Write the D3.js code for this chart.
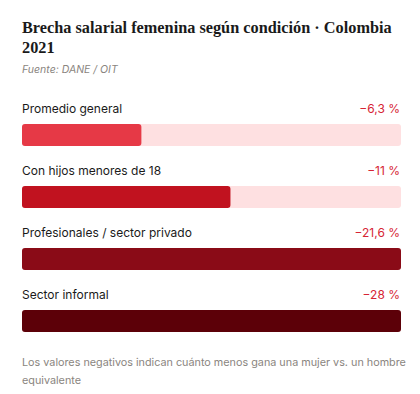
<!DOCTYPE html>
<html><head><meta charset="utf-8">
<script src="https://cdn.jsdelivr.net/npm/d3@7/dist/d3.min.js"></script>
<style>
html,body{margin:0;padding:0;background:#fff;}
svg{display:block;}
</style></head>
<body>
<script>
const categories = ["Promedio general", "Con hijos menores de 18", "Profesionales / sector privado", "Sector informal"];
const values = [-6.3, -11, -21.6, -28];
const valueLabels = ["−6,3 %", "−11 %", "−21,6 %", "−28 %"];
const barColors = ["#e63946", "#c1121f", "#8a0b17", "#5c0008"];
const scaleMax = 20;

const W = 420, H = 394;
const left = 22, right = 401;
const svg = d3.select("body").append("svg").attr("width", W).attr("height", H);

// Title (wrapped)
const titleText = "Brecha salarial femenina según condición · Colombia 2021";
const title = svg.append("text").attr("x", left).attr("y", 33)
  .attr("font-family", "'Liberation Serif', 'DejaVu Serif', serif")
  .attr("font-weight", 700).attr("font-size", 16.3).attr("fill", "#1a1a1a");
(function wrap(){
  const words = titleText.split(" ");
  let line = [], tspan = title.append("tspan").attr("x", left).attr("dy", 0);
  for (const w of words) {
    line.push(w);
    tspan.text(line.join(" "));
    if (tspan.node().getComputedTextLength() > right - left && line.length > 1) {
      line.pop(); tspan.text(line.join(" "));
      line = [w];
      tspan = title.append("tspan").attr("x", left).attr("dy", 20).text(w);
    }
  }
})();

svg.append("text").attr("x", left).attr("y", 73)
  .attr("font-family", "Inter, sans-serif").attr("font-style", "italic")
  .attr("font-size", 10.5).attr("fill", "#8a8580").text("Fuente: DANE / OIT");

const x = d3.scaleLinear().domain([0, scaleMax]).range([0, right - left]).clamp(true);
const y = d3.scaleBand().domain(categories).range([98, 346]).paddingInner(0).paddingOuter(0);

const rows = svg.selectAll("g.row").data(categories).join("g")
  .attr("class", "row").attr("transform", d => `translate(0,${y(d)})`);

rows.append("text").attr("x", left).attr("y", 15)
  .attr("font-family", "Inter, sans-serif").attr("font-size", 12).attr("fill", "#1a1a1a")
  .text(d => d);
rows.append("text").attr("x", right - 1).attr("y", 15).attr("text-anchor", "end")
  .attr("font-family", "Inter, sans-serif").attr("font-size", 12).attr("fill", "#d62435")
  .text((d, i) => valueLabels[i]);
rows.append("rect").attr("x", left).attr("y", 26).attr("width", right - left).attr("height", 22)
  .attr("rx", 3).attr("fill", "#fee0e1");
rows.append("rect").attr("x", left).attr("y", 26)
  .attr("width", (d, i) => x(Math.abs(values[i]))).attr("height", 22)
  .attr("rx", 3).attr("fill", (d, i) => barColors[i]);

const note = svg.append("text").attr("x", left).attr("y", 366)
  .attr("font-family", "Inter, sans-serif").attr("font-size", 10.8).attr("fill", "#8a8580");
note.append("tspan").attr("x", left).text("Los valores negativos indican cuánto menos gana una mujer vs. un hombre");
note.append("tspan").attr("x", left).attr("dy", 18).text("equivalente");
</script>
</body></html>
